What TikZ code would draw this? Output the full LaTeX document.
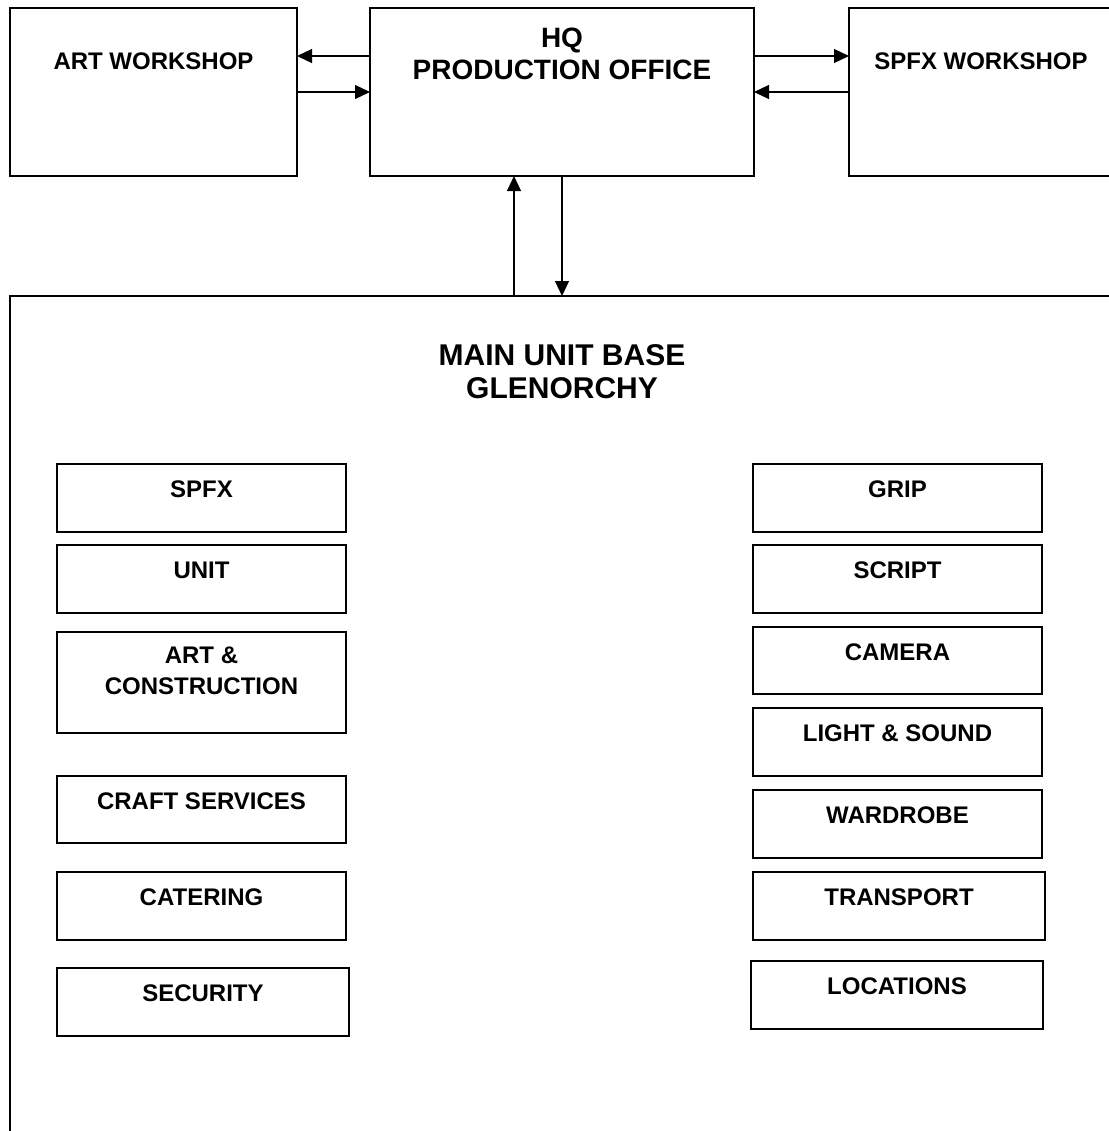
\documentclass[tikz,border=0pt]{standalone}
\usepackage{fontspec}
\setmainfont{Liberation Sans}
\usetikzlibrary{arrows.meta}
\usetikzlibrary{positioning}
\tikzset{box/.style={rectangle, draw=black, line width=1pt, outer sep=0pt, inner sep=0pt},
ws/.style={box, minimum height=84pt, anchor=north west},
dept/.style={box, minimum width=144.5pt, minimum height=34pt, anchor=north west},
txt/.style={anchor=north, inner sep=0pt, align=center, font=\fontsize{12}{15.5}\selectfont\bfseries},
dtxt/.style={label={[txt,yshift=-8.2pt]north:#1}},
link/.style={line width=0.6pt},
>={Triangle[length=7.5pt,width=7pt]}}

\begin{document}
\begin{tikzpicture}
    \useasboundingbox (0,0) rectangle (554.5pt,-565.5pt);

    \node (artws) [ws, minimum width=143.5pt, label={[txt,yshift=-22pt]north:ART WORKSHOP}] at (5pt,-4pt) {};
    \node (hq) [ws, minimum width=192pt, below right=0pt and 36.5pt of artws.north east,
        label={[txt,yshift=-10pt,font=\fontsize{14}{16}\selectfont\bfseries]north:{HQ\\PRODUCTION OFFICE}}] {};
    \node (spfxws) [ws, minimum width=132pt, below right=0pt and 47.5pt of hq.north east,
        label={[txt,yshift=-22pt]north:SPFX WORKSHOP}] {};

    \node (mainbase) [box, anchor=north west, minimum width=552pt, minimum height=442pt,
        label={[txt,yshift=-24pt,font=\fontsize{15}{16.5}\selectfont\bfseries]north:{MAIN UNIT BASE\\GLENORCHY}}] at (5pt,-148pt) {};

    % left column
    \node (spfx) [dept, dtxt=SPFX] at (28.5pt,-232pt) {};
    \node (unit) [dept, dtxt=UNIT, below right=6.5pt and 0pt of spfx.south west] {};
    \node (artcon) [dept, minimum height=50.5pt, below right=9.5pt and 0pt of unit.south west,
        label={[txt,yshift=-7.2pt]north:{ART \&\\CONSTRUCTION}}] {};
    \node (craft) [dept, minimum height=33.5pt, dtxt=CRAFT SERVICES, below right=21.5pt and 0pt of artcon.south west] {};
    \node (catering) [dept, dtxt=CATERING, below right=14.5pt and 0pt of craft.south west] {};
    \node (security) [dept, minimum width=146pt, dtxt=SECURITY, below right=14pt and 0pt of catering.south west] {};

    % right column
    \node (grip) [dept, dtxt=GRIP] at (376.5pt,-232pt) {};
    \node (script) [dept, dtxt=SCRIPT, below right=6.5pt and 0pt of grip.south west] {};
    \node (camera) [dept, minimum height=33.5pt, dtxt=CAMERA, below right=7pt and 0pt of script.south west] {};
    \node (lightsound) [dept, dtxt={LIGHT \& SOUND}, below right=7pt and 0pt of camera.south west] {};
    \node (wardrobe) [dept, dtxt=WARDROBE, below right=7pt and 0pt of lightsound.south west] {};
    \node (transport) [dept, minimum width=146pt, dtxt=TRANSPORT, below right=7pt and 0pt of wardrobe.south west] {};
    \node (locations) [dept, minimum width=146pt, dtxt=LOCATIONS, below right=10.5pt and -1pt of transport.south west] {};

    \draw [link,->] ([yshift=-24pt]hq.north west) -- ([yshift=-24pt]artws.north east);
    \draw [link,->] ([yshift=-42pt]artws.north east) -- ([yshift=-42pt]hq.north west);
    \draw [link,->] ([yshift=-24pt]hq.north east) -- ([yshift=-24pt]spfxws.north west);
    \draw [link,->] ([yshift=-42pt]spfxws.north west) -- ([yshift=-42pt]hq.north east);

    \draw [link,->] ([xshift=-24pt]hq.south |- mainbase.north) -- ([xshift=-24pt]hq.south);
    \draw [link,->] (hq.south) -- (hq.south |- mainbase.north);

\end{tikzpicture}
\end{document}
